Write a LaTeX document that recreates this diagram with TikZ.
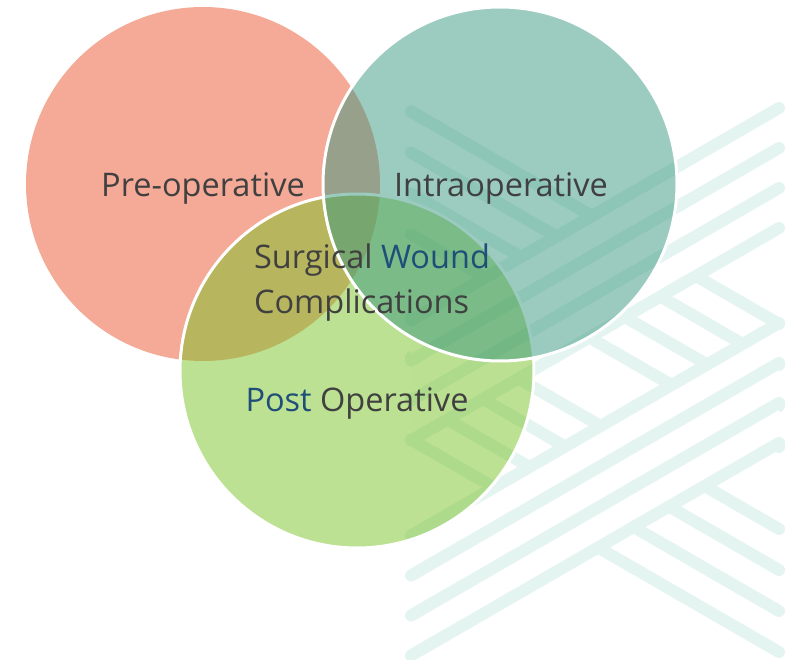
\documentclass[tikz,border=0pt]{standalone}
\usepackage{fontspec}
\setmainfont{Open Sans}
\usepackage{xcolor}

\definecolor{preop}{HTML}{E9552D}
\definecolor{intraop}{HTML}{39977F}
\definecolor{postop}{HTML}{7BC327}
\definecolor{weave}{HTML}{E3F4F1}
\definecolor{labelgray}{HTML}{404040}
\definecolor{woundblue}{HTML}{1F4E79}

\begin{document}
\begin{tikzpicture}[
    x=1pt, y=-1pt,
    venn/.style={circle, minimum size=354pt, inner sep=0pt, fill opacity=0.5},
    rim/.style={draw=white, line width=3pt},
    strand/.style={draw=weave, line width=12pt, line cap=round, line join=round},
    every node/.style={font=\fontsize{32.5}{45}\selectfont, text=labelgray, align=left}
]
\useasboundingbox (0,0) rectangle (790,660);

% woven strands behind the circles
\foreach \c in {324,365,406,447,529,570,611,652}
    \draw[strand] (411,\c-212.5) -- (779,\c);
\fill[white] (411,320.5) -- (779,108) -- (779,228) -- (411,440.5) -- cycle;
\fill[white] (411,535.5) -- (779,323) -- (779,443) -- (411,655.5) -- cycle;
\foreach \a in {108,148,188,228,323,363,403,443}
    \draw[strand] (411,\a+212.5) -- (779,\a);

% the three phases
\node[venn, fill=preop] (pre) at (203,184) {};
\node[venn, fill=postop, rim] (post) at (357,371) {};
\node[venn, fill=intraop, rim] (intra) at (500,184) {};

\node (prelabel) at (203,188) {Pre-operative};
\node (intralabel) at (501,188) {Intraoperative};
\node (postlabel) at (357,403) {\textcolor{woundblue}{Post} Operative};
\node (core) at (372,283) {Surgical \textcolor{woundblue}{Wound}\\Complications};
\end{tikzpicture}
\end{document}
